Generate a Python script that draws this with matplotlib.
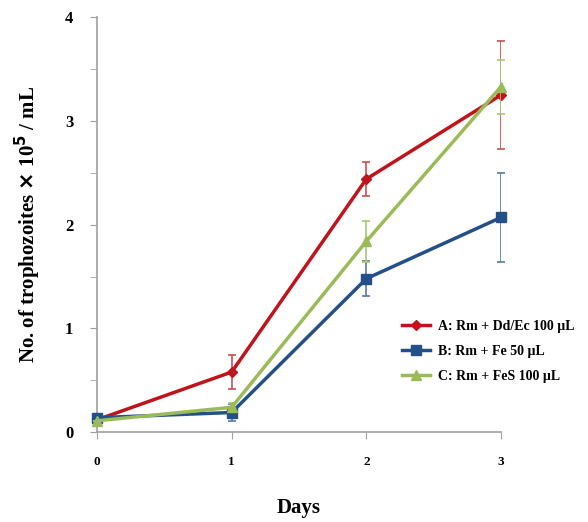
import matplotlib.pyplot as plt
import numpy as np

days = [0, 1, 2, 3]
labels = ['A: Rm + Dd/Ec 100 \u00b5L', 'B: Rm + Fe 50 \u00b5L', 'C: Rm + FeS 100 \u00b5L']
vals_a = [0.12, 0.58, 2.44, 3.25]
err_a = [0.0, 0.16, 0.16, 0.52]
vals_b = [0.14, 0.19, 1.48, 2.07]
err_b = [0.0, 0.08, 0.17, 0.43]
vals_c = [0.11, 0.24, 1.84, 3.33]
err_c = [0.0, 0.04, 0.20, 0.26]

plt.rcParams['font.family'] = ['Liberation Serif', 'DejaVu Serif']
plt.rcParams['font.weight'] = 'bold'

fig = plt.figure(figsize=(5.88, 5.22), dpi=100)
ax = fig.add_axes([0.165, 0.172, 0.687, 0.795])

series = [
    (vals_a, err_a, '#C0141C', '#C85050', 'D', 5),
    (vals_b, err_b, '#24508A', '#5578A8', 's', 7),
    (vals_c, err_c, '#9BBB59', '#A8C870', '^', 7),
]
for (v, e, col, ecol, m, ms), lab in zip(series, labels):
    ax.errorbar(days, v, yerr=e, fmt='none', ecolor=ecol, elinewidth=1.2, capsize=3, capthick=1.2)
    ax.plot(days, v, color=col, lw=2.5, marker=m, markersize=ms, label=lab)

ax.set_xlim(0, 3)
ax.set_ylim(0, 4)
ax.set_xticks(days)
ax.set_yticks([0, 1, 2, 3, 4])
ax.set_yticks(np.arange(0.5, 4, 1), minor=True)
for s in ['top', 'right']:
    ax.spines[s].set_visible(False)
for s in ['left', 'bottom']:
    ax.spines[s].set_color('#A0A0A0')
    ax.spines[s].set_linewidth(1.2)
ax.spines['left'].set_zorder(0)
ax.tick_params(axis='x', direction='out', length=5, color='#A0A0A0', pad=12, labelsize=9.5)
ax.tick_params(axis='y', which='both', direction='out', length=5, color='#A0A0A0', pad=12, labelsize=12)
ax.set_xlabel('Days', fontsize=15, fontweight='bold', labelpad=22)
ax.set_ylabel(r'No. of trophozoites $\mathbf{\times}$ 10$^\mathbf{5}$ / mL', fontsize=15, fontweight='bold', labelpad=16)

ax.legend(loc='center left', bbox_to_anchor=(0.725, 0.195), frameon=False, fontsize=10,
          handlelength=2.0, handletextpad=0.6, labelspacing=0.85)
for ln in ax.lines:
    ln.set_clip_on(False)

fig.savefig('out.png', dpi=100)
